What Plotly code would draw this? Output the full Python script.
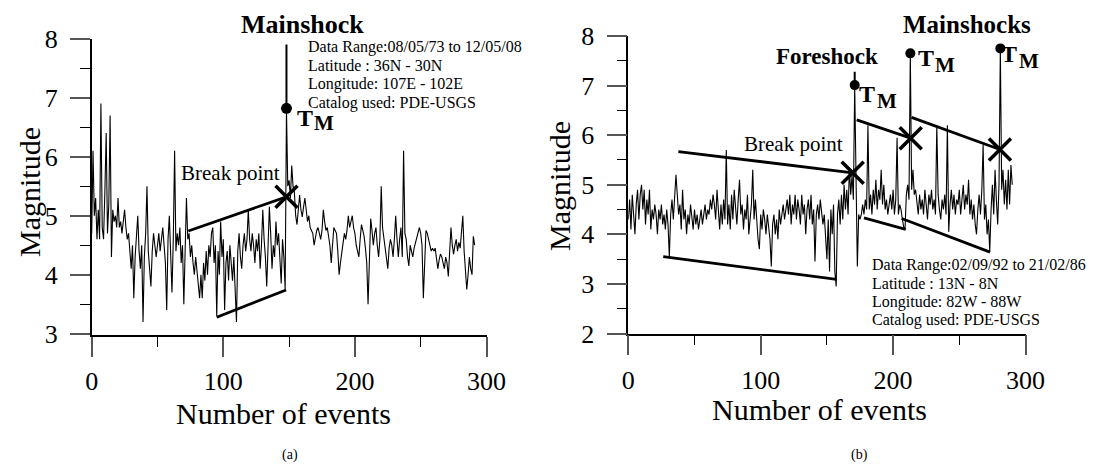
import plotly.graph_objects as go

W, H = 1095, 468
FONT = "Liberation Serif"

# ---------------- Panel (a) data ----------------
a_mag = [
    4.7, 6.1, 5.0, 5.3, 4.6, 5.1, 4.6, 6.9, 4.8, 4.6,
    5.4, 6.4, 4.7, 5.2, 6.7, 4.3, 5.1, 4.9, 5.0, 4.8,
    5.3, 4.8, 4.9, 4.7, 4.9, 5.1, 4.8, 4.6, 4.7, 4.4,
    4.1, 4.5, 3.6, 4.3, 4.6, 5.0, 4.4, 4.1, 4.5, 3.2,
    4.3, 4.7, 5.5, 4.4, 4.1, 3.8, 4.4, 4.7, 4.5, 4.3,
    4.5, 4.7, 4.4, 4.6, 4.8, 4.5, 4.2, 3.4, 4.6, 5.0,
    4.3, 3.7, 4.6, 6.1, 4.4, 4.7, 4.5, 4.8, 4.2, 4.5,
    3.5, 4.6, 5.3, 4.6, 4.7, 4.3, 4.5, 4.2, 4.0, 4.3,
    4.1, 3.8, 3.6, 4.0, 3.6, 4.2, 3.9, 4.4, 4.0, 4.5,
    4.3, 4.7, 4.8, 4.2, 4.5, 3.3, 4.4, 4.0, 4.9, 4.3,
    4.6, 3.4, 4.2, 4.4, 3.9, 4.5, 4.2, 3.9, 4.3, 3.8,
    3.2, 4.4, 4.7, 4.3, 4.1, 4.5, 4.7, 4.4, 4.6, 5.1,
    4.6, 4.4, 4.7, 4.5, 4.2, 4.6, 4.4, 4.7, 4.1, 4.5,
    5.1, 4.6, 4.3, 3.8, 4.4, 5.15, 4.7, 4.1, 4.5, 4.3,
    4.9, 4.5, 4.7, 4.2, 3.85, 4.6, 4.3, 3.75, 6.8, 5.5,
    5.6, 5.3, 5.85, 5.5, 5.4, 5.0, 4.85, 5.1, 5.35, 5.1,
    4.98, 5.15, 5.3, 5.1, 4.9, 5.0, 4.8, 4.75, 4.7, 4.5,
    4.65, 4.75, 4.8, 4.7, 4.6, 4.75, 5.1, 4.9, 4.75, 4.8,
    4.65, 4.5, 4.2, 4.5, 4.8, 4.75, 4.7, 4.4, 4.0, 4.2,
    4.35, 4.55, 4.7, 4.6, 4.75, 5.0, 4.8, 4.9, 5.0, 4.8,
    4.7, 4.5, 4.4, 4.3, 4.6, 4.85, 4.75, 4.65, 4.45, 4.2,
    3.5, 4.2, 4.95, 4.75, 4.5, 4.7, 4.8, 4.5, 4.3, 4.6,
    5.5, 4.8, 4.6, 4.5, 4.3, 4.1, 4.45, 4.6, 4.5, 4.3,
    4.6, 5.0, 4.6, 4.3, 4.6, 4.8, 4.3, 6.1, 4.7, 4.6,
    4.3, 4.15, 4.5, 4.4, 4.3, 4.45, 4.55, 4.6, 4.7, 4.8,
    4.7, 4.5, 3.6, 4.4, 4.75, 4.7, 4.6, 4.5, 4.4, 4.45,
    4.4, 4.45, 4.3, 4.1, 4.25, 4.35, 4.3, 4.2, 4.1, 4.3,
    4.2, 3.97, 4.4, 4.8, 4.5, 4.35, 4.5, 4.6, 4.4, 4.55,
    4.45, 4.7, 5.0, 4.4, 4.1, 3.75, 4.0, 4.3, 4.1, 4.0,
    4.65, 4.5,
]
a_events = list(range(len(a_mag)))

a_main_x = [148]
a_main_y = [6.82]
a_main_stem_x = [148, 148]
a_main_stem_y = [6.82, 7.9]
a_break_x = [148]
a_break_y = [5.32]
a_upper_x = [73.4, 148]
a_upper_y = [4.74, 5.32]
a_lower_x = [95, 147.7]
a_lower_y = [3.28, 3.74]

# ---------------- Panel (b) data ----------------
b_mag = [
    4.3, 4.7, 4.1, 4.8, 4.4, 4.0, 4.6, 4.9, 4.3, 4.8,
    5.0, 4.5, 4.9, 4.2, 4.7, 4.4, 4.9, 4.1, 4.5, 4.3,
    4.6, 4.4, 4.0, 4.5, 4.3, 4.6, 4.2, 4.4, 4.1, 4.5,
    4.2, 3.55, 4.4, 4.7, 4.3, 4.9, 5.2, 4.8, 4.4, 4.6,
    4.1, 4.9, 4.3, 4.5, 4.0, 4.4, 4.2, 4.6, 4.3, 4.1,
    4.5, 4.2, 4.4, 4.1, 4.3, 4.5, 4.2, 4.4, 4.6, 4.3,
    4.5, 4.4, 4.7, 4.5, 4.8, 4.6, 4.3, 4.9, 4.4, 4.1,
    4.6, 4.2, 4.7, 4.3, 5.7, 4.2, 4.6, 4.1, 4.8, 4.3,
    4.9, 4.5, 4.2, 4.7, 5.1, 4.4, 4.6, 4.1, 4.5, 4.3,
    4.8, 4.0, 4.4, 4.6, 5.3, 4.3, 4.7, 4.2, 3.9, 3.7,
    4.4, 4.1, 4.5, 4.3, 4.0, 4.4, 4.1, 3.9, 3.35, 4.2,
    4.4, 4.0, 4.3, 3.9, 4.5, 4.2, 4.4, 4.6, 4.3, 4.5,
    4.7, 4.4, 4.8, 4.2, 4.6, 4.4, 4.8, 4.3, 4.7, 4.5,
    4.2, 4.8, 4.4, 4.6, 4.0, 4.5, 4.7, 4.3, 4.8, 4.2,
    4.5, 3.45, 4.4, 4.6, 4.3, 4.7, 4.5, 4.2, 4.4, 3.9,
    3.5, 4.3, 3.25, 4.5, 4.0, 4.6, 3.25, 2.95, 4.4, 4.7,
    4.2, 4.8, 4.3, 5.0, 4.5, 4.9, 4.4, 5.35, 4.8, 5.2,
    4.7, 7.0, 4.9, 3.35, 4.4, 4.3, 4.4, 4.6, 4.4, 4.7,
    4.5, 6.2, 4.5, 4.8, 4.4, 4.9, 4.6, 5.1, 4.5, 4.9,
    4.7, 5.3, 4.6, 5.0, 4.5, 4.7, 4.4, 4.6, 4.8, 4.5,
    4.9, 4.4, 4.7, 5.95, 4.4, 4.6, 4.5, 4.3, 4.15, 4.1,
    4.8, 5.0, 4.7, 7.65, 4.9, 5.3, 4.8, 4.9, 4.6, 4.4,
    4.8, 4.5, 4.7, 4.4, 4.9, 4.5, 4.3, 4.8, 4.6, 4.9,
    4.5, 4.7, 4.4, 6.2, 4.8, 4.5, 4.3, 4.7, 4.5, 4.8,
    4.4, 6.2, 4.05, 4.6, 4.9, 4.5, 4.8, 4.4, 4.7, 4.6,
    4.9, 4.4, 4.7, 5.0, 4.5, 4.8, 4.6, 5.1, 4.4, 4.7,
    4.3, 4.6, 4.2, 4.0, 4.5, 4.8, 4.4, 4.9, 5.8, 4.3,
    4.6, 4.0, 4.3, 3.65, 4.5, 5.0, 4.4, 5.3, 4.7, 4.2,
    5.0, 7.75, 4.9, 5.3, 4.6, 5.1, 4.5, 5.3, 4.6, 5.4,
    5.0,
]
b_events = list(range(len(b_mag)))

b_dots_x = [171, 213, 281]
b_dots_y = [7.01, 7.65, 7.75]
b_fore_stem_x = [171, 171]
b_fore_stem_y = [7.01, 7.28]
b_break_x = [169.5, 213.3, 280.7]
b_break_y = [5.24, 5.94, 5.71]
b_trend_lines = [
    ([37.8, 169.5], [5.67, 5.24]),
    ([26.4, 157.4], [3.55, 3.09]),
    ([172.5, 213.3], [6.31, 5.94]),
    ([178.0, 209.5], [4.33, 4.10]),
    ([213.9, 280.7], [6.36, 5.71]),
    ([206.5, 273.2], [4.32, 3.64]),
]

x_ticks = [0, 100, 200, 300]
x_minor = [50, 150, 250]
a_y_ticks = [3, 4, 5, 6, 7, 8]
a_y_minor = [3.5, 4.5, 5.5, 6.5, 7.5]
b_y_ticks = [2, 3, 4, 5, 6, 7, 8]
b_y_minor = [2.5, 3.5, 4.5, 5.5, 6.5, 7.5]

a_info = ["Data Range:08/05/73 to 12/05/08", "Latitude : 36N - 30N",
          "Longitude: 107E - 102E", "Catalog used: PDE-USGS"]
b_info = ["Data Range:02/09/92 to 21/02/86", "Latitude : 13N - 8N",
          "Longitude: 82W - 88W", "Catalog used: PDE-USGS"]


def px(x):
    return x / W


def py(y):
    return 1 - y / H


fig = go.Figure()

# panel (a)
fig.add_trace(go.Scatter(x=a_events, y=a_mag, mode="lines",
                         line=dict(color="black", width=1.1),
                         xaxis="x", yaxis="y", showlegend=False))
fig.add_trace(go.Scatter(x=a_main_stem_x, y=a_main_stem_y, mode="lines",
                         line=dict(color="black", width=2),
                         xaxis="x", yaxis="y", showlegend=False))
for xs, ys in [(a_upper_x, a_upper_y), (a_lower_x, a_lower_y)]:
    fig.add_trace(go.Scatter(x=xs, y=ys, mode="lines",
                             line=dict(color="black", width=2.8),
                             xaxis="x", yaxis="y", showlegend=False))
fig.add_trace(go.Scatter(x=a_main_x, y=a_main_y, mode="markers",
                         marker=dict(symbol="circle", size=11, color="black"),
                         xaxis="x", yaxis="y", showlegend=False))
fig.add_trace(go.Scatter(x=a_break_x, y=a_break_y, mode="markers",
                         marker=dict(symbol="x-thin", size=22, color="black",
                                     line=dict(width=3.5, color="black")),
                         xaxis="x", yaxis="y", showlegend=False))

# panel (b)
fig.add_trace(go.Scatter(x=b_events, y=b_mag, mode="lines",
                         line=dict(color="black", width=1.1),
                         xaxis="x2", yaxis="y2", showlegend=False))
fig.add_trace(go.Scatter(x=b_fore_stem_x, y=b_fore_stem_y, mode="lines",
                         line=dict(color="black", width=2),
                         xaxis="x2", yaxis="y2", showlegend=False))
for xs, ys in b_trend_lines:
    fig.add_trace(go.Scatter(x=xs, y=ys, mode="lines",
                             line=dict(color="black", width=2.8),
                             xaxis="x2", yaxis="y2", showlegend=False))
fig.add_trace(go.Scatter(x=b_dots_x, y=b_dots_y, mode="markers",
                         marker=dict(symbol="circle", size=10, color="black"),
                         xaxis="x2", yaxis="y2", showlegend=False))
fig.add_trace(go.Scatter(x=b_break_x, y=b_break_y, mode="markers",
                         marker=dict(symbol="x-thin", size=22, color="black",
                                     line=dict(width=3.5, color="black")),
                         xaxis="x2", yaxis="y2", showlegend=False))

axis_common = dict(
    showgrid=False, zeroline=False, showline=True, linecolor="black", linewidth=1.6,
    ticks="outside", ticklen=20, tickwidth=1.6, tickcolor="#555",
    tickfont=dict(family=FONT, size=26, color="black"), automargin=False,
)


def xaxis(domain, anchor):
    return dict(axis_common, domain=domain, anchor=anchor, range=[0, 300],
                tickmode="array", tickvals=x_ticks, ticktext=[str(v) for v in x_ticks],
                ticklabelstandoff=2,
                minor=dict(tickmode="array", tickvals=x_minor, ticks="outside",
                           ticklen=10, tickwidth=1.4, tickcolor="black"))


def yaxis(domain, anchor, rng, major, minor):
    return dict(axis_common, domain=domain, anchor=anchor, range=rng,
                tickmode="array", tickvals=major, ticktext=[str(v) for v in major],
                ticklabelstandoff=7,
                minor=dict(tickmode="array", tickvals=minor, ticks="outside",
                           ticklen=10, tickwidth=1.4, tickcolor="black"))


ann = []


def text(s, x, y, size, bold=False, xanchor="center", angle=0):
    ann.append(dict(text=("<b>%s</b>" % s) if bold else s, x=px(x), y=py(y),
                    xref="paper", yref="paper", showarrow=False,
                    xanchor=xanchor, yanchor="middle", textangle=angle,
                    font=dict(family=FONT, size=size, color="black")))


# axis titles
text("Magnitude", 29, 192, 30, angle=-90)
text("Magnitude", 560, 186, 30, angle=-90)
text("Number of events", 283, 413, 30)
text("Number of events", 819, 409, 30)
text("(a)", 290, 455, 14)
text("(b)", 859, 455, 14)

# panel (a) labels
text("Mainshock", 303, 24, 26, bold=True)
text("Break point", 230, 173, 21)
text("T", 305, 118, 24, bold=True)
text("M", 324, 123, 21, bold=True)
for k, line in enumerate(a_info):
    text(line, 306, 47 + 18.5 * k, 16, xanchor="left")

# panel (b) labels
text("Foreshock", 827, 56, 23, bold=True)
text("Mainshocks", 967, 24, 25, bold=True)
text("Break point", 793, 144, 21)
text("T", 867, 94, 24, bold=True)
text("M", 887, 101, 21, bold=True)
text("T", 926, 58, 24, bold=True)
text("M", 945, 65, 21, bold=True)
text("T", 1009, 54, 24, bold=True)
text("M", 1029, 61, 21, bold=True)
for k, line in enumerate(b_info):
    text(line, 870, 265 + 18.4 * k, 16, xanchor="left")

fig.update_layout(
    width=W, height=H, margin=dict(l=0, r=0, t=0, b=0, autoexpand=False),
    autosize=False,
    paper_bgcolor="white", plot_bgcolor="white",
    xaxis=xaxis([px(91.7), px(486.5)], "y"),
    yaxis=yaxis([py(335), py(38.7)], "x", [2.978, 8], a_y_ticks, a_y_minor),
    xaxis2=xaxis([px(628.3), px(1025.5)], "y2"),
    yaxis2=yaxis([py(333.5), py(36)], "x2", [2.0, 8], b_y_ticks, b_y_minor),
    annotations=ann,
)

fig.write_html(
    "out.html",
    config={"responsive": False},
    post_script="document.body.style.margin='0';document.body.style.padding='0';"
                "document.documentElement.style.overflow='hidden';",
)
